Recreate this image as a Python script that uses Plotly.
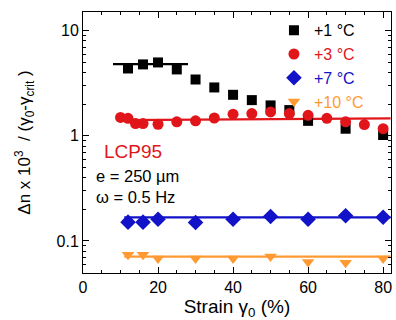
import plotly.graph_objects as go

# +1 °C
x1 = [12, 16, 20, 25, 30, 35, 40, 45, 50, 55, 60, 70, 80]
y1 = [4.38, 4.79, 5.0, 4.29, 3.44, 2.89, 2.46, 2.19, 1.95, 1.76, 1.39, 1.17, 1.02]
fit1_x = [8, 28]
fit1_y = [4.82, 4.82]

# +3 °C
x3 = [10, 12, 14, 16, 20, 25, 30, 35, 40, 45, 50, 55, 60, 65, 70, 75, 80]
y3 = [1.50, 1.47, 1.31, 1.31, 1.29, 1.36, 1.39, 1.48, 1.61, 1.63, 1.69, 1.63, 1.57, 1.47, 1.36, 1.28, 1.17]
fit3_x = [10.5, 82]
fit3_y = [1.41, 1.47]

# +7 °C
x7 = [12, 16, 20, 30, 40, 50, 60, 70, 80]
y7 = [0.151, 0.151, 0.161, 0.150, 0.161, 0.171, 0.161, 0.174, 0.168]
fit7_x = [11, 82]
fit7_y = [0.168, 0.168]

# +10 °C
x10 = [12, 16, 20, 30, 40, 50, 60, 70, 80]
y10 = [0.074, 0.074, 0.068, 0.068, 0.068, 0.071, 0.063, 0.062, 0.068]
fit10_x = [11, 82]
fit10_y = [0.071, 0.071]

BLACK = "#000000"
RED = "#e0161b"
BLUE = "#1212c8"
ORANGE = "#ff9a33"

fig = go.Figure()

def fit(xs, ys, c):
    fig.add_trace(go.Scatter(x=xs, y=ys, mode="lines", line=dict(color=c, width=2.2),
                             showlegend=False, hoverinfo="skip"))

fit(fit1_x, fit1_y, BLACK)
fit(fit3_x, fit3_y, RED)
fit(fit7_x, fit7_y, BLUE)
fit(fit10_x, fit10_y, ORANGE)

def pts(xs, ys, c, sym, size, name):
    fig.add_trace(go.Scatter(x=xs, y=ys, mode="markers",
                             marker=dict(color=c, symbol=sym, size=size, line=dict(width=0)),
                             name=f'<span style="color:{c}">{name}</span>'))

pts(x1, y1, BLACK, "square", 10, "+1 °C")
pts(x3, y3, RED, "circle", 11, "+3 °C")
pts(x7, y7, BLUE, "diamond", 12, "+7 °C")
pts(x10, y10, ORANGE, "triangle-down", 11, "+10 °C")

FONT = "Liberation Sans, Arial, sans-serif"

fig.update_layout(
    width=396, height=320,
    margin=dict(l=83, r=5, t=12, b=47, autoexpand=False),
    paper_bgcolor="white", plot_bgcolor="white",
    font=dict(family=FONT, size=16, color="black"),
    showlegend=True,
    legend=dict(x=0.62, y=0.995, xanchor="left", yanchor="top",
                bgcolor="rgba(0,0,0,0)", font=dict(size=16),
                tracegroupgap=0, itemwidth=30),
    annotations=[
        dict(text="LCP95", x=0.062, y=0.464, xref="paper", yref="paper",
             xanchor="left", yanchor="middle", showarrow=False,
             font=dict(size=19, color=RED)),
        dict(text="e = 250 µm", x=0.036, y=0.372, xref="paper", yref="paper",
             xanchor="left", yanchor="middle", showarrow=False,
             font=dict(size=16.5, color="black")),
        dict(text="ω = 0.5 Hz", x=0.036, y=0.291, xref="paper", yref="paper",
             xanchor="left", yanchor="middle", showarrow=False,
             font=dict(size=16.5, color="black")),
    ],
)

fig.update_xaxes(
    range=[0, 82.1], tickvals=[0, 20, 40, 60, 80],
    ticks="inside", ticklen=6, tickcolor="black", tickwidth=1,
    minor=dict(ticks="inside", ticklen=3, dtick=5, tickcolor="black", showgrid=False),
    showline=True, linecolor="black", linewidth=1, mirror="ticks",
    showgrid=False, zeroline=False, automargin=False,
    tickfont=dict(size=16),
    title=dict(text="Strain γ<sub>0</sub> (%)", font=dict(size=19), standoff=2),
)

fig.update_yaxes(
    type="log", range=[-1.305, 1.179], dtick=1,
    ticks="inside", ticklen=6, tickcolor="black", tickwidth=1,
    minor=dict(ticks="inside", ticklen=3, dtick="D1", tickcolor="black", showgrid=False),
    showline=True, linecolor="black", linewidth=1, mirror="ticks",
    showgrid=False, zeroline=False, automargin=False,
    tickfont=dict(size=16),
    title=dict(text="Δn x 10<sup>3</sup>  / (γ<sub>0</sub>-γ<sub>crit</sub> )", font=dict(size=17), standoff=21),
)

fig.write_html("out.html", config={"displayModeBar": False},
               post_script="document.body.style.margin='0';document.body.style.padding='0';")
